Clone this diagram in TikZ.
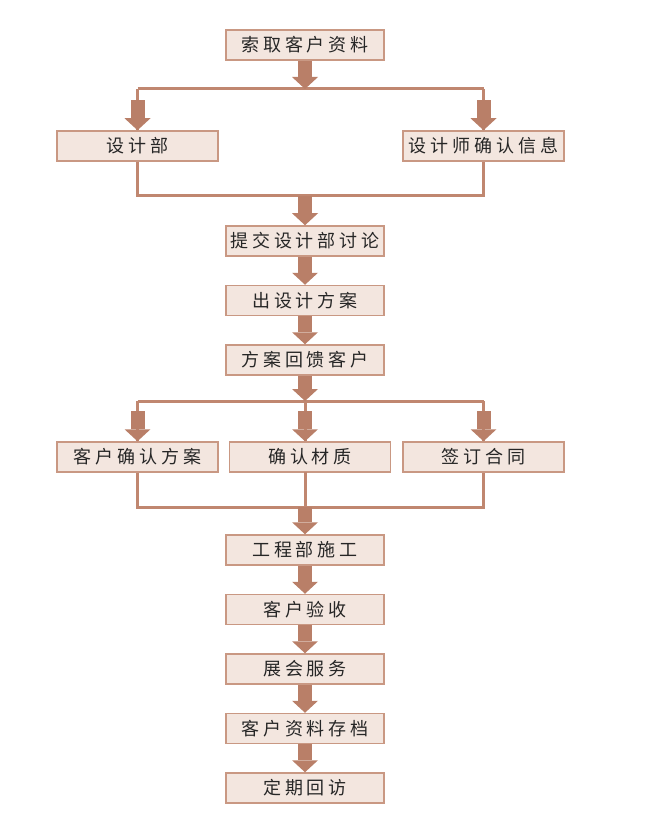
\documentclass[tikz,border=0pt]{standalone}
\usepackage{fontspec}
\newfontfamily\cjk[LetterSpace=22]{Noto Sans CJK SC}
\usetikzlibrary{arrows.meta,positioning,calc}
\definecolor{boxfill}{HTML}{F3E6DF}
\definecolor{boxline}{HTML}{C99883}
\definecolor{flowline}{HTML}{C08770}
\definecolor{flowarrow}{HTML}{B97F68}
\tikzset{
  proc/.style={
    draw=boxline,
    fill=boxfill,
    line width=1.5pt,
    minimum width=158pt,
    minimum height=30pt,
    inner sep=0pt,
    text=black!85,
    font=\cjk\fontsize{18}{18}\selectfont
  },
  wide proc/.style={
    proc,
    minimum width=161pt
  },
  flow/.style={
    draw=flowline,
    line width=3pt
  },
  fat arrow/.style={
    color=flowarrow,
    line width=14pt,
    -{Triangle[width=26pt,length=12pt,line width=0pt,fill=flowarrow]}
  }
}

\begin{document}
\begin{tikzpicture}[x=1pt,y=-1pt,node distance=28pt]
    \useasboundingbox (0,0) rectangle (671,834);
    \path{
      node[proc] (ask) at (305,45) {索取客户资料}
      node[wide proc] (dept) at (137.5,146) {设计部}
      node[wide proc] (check) at (483.5,146) {设计师确认信息}
      node[proc] (submit) at (305,241) {提交设计部讨论}
      node[proc] (plan) [below=of submit] {出设计方案}
      node[proc] (reply) [below=of plan] {方案回馈客户}
      node[wide proc] (okplan) at (137.5,457) {客户确认方案}
      node[wide proc] (material) at (310,457) {确认材质}
      node[wide proc] (contract) at (483.5,457) {签订合同}
      node[proc] (build) at (305,550) {工程部施工}
      node[proc] (accept) [below=of build] {客户验收}
      node[proc] (expo) [below=of accept] {展会服务}
      node[proc] (archive) [below=of expo] {客户资料存档}
      node[proc] (visit) [below=of archive] {定期回访}
    };

    % split and merge points
    \coordinate (split_1) at (305,89);
    \coordinate (split_1l) at (dept.north |- split_1);
    \coordinate (split_1r) at (check.north |- split_1);
    \coordinate (merge_1) at (305,196);
    \coordinate (split_2) at (305,401);
    \coordinate (split_2l) at (okplan.north |- split_2);
    \coordinate (split_2r) at (contract.north |- split_2);
    \coordinate (merge_2) at (305,507);
    \coordinate (mid_2) at (305,472);

    \path[flow]{
      (split_1l) -- (split_1r)
      (split_1l) -- (dept.north)
      (split_1r) -- (check.north)
      (dept.south) |- (merge_1) -| (check.south)
      (split_2l) -- (split_2r)
      (split_2l) -- (okplan.north)
      (split_2r) -- (contract.north)
      (split_2) -- (mid_2 |- material.north)
      (okplan.south) |- (merge_2) -| (contract.south)
      (mid_2) -- (merge_2)
    };

    \path[fat arrow]{
      (ask) edge (split_1)
      ($(dept.north)+(0,-30)$) edge (dept.north)
      ($(check.north)+(0,-30)$) edge (check.north)
      (merge_1) edge (submit)
      (submit) edge (plan)
      (plan) edge (reply)
      (reply) edge (split_2)
      ($(okplan.north)+(0,-30)$) edge (okplan.north)
      ($(mid_2 |- material.north)+(0,-30)$) edge (mid_2 |- material.north)
      ($(contract.north)+(0,-30)$) edge (contract.north)
      (merge_2) edge (build)
      (build) edge (accept)
      (accept) edge (expo)
      (expo) edge (archive)
      (archive) edge (visit)
    };
  \end{tikzpicture}
\end{document}
